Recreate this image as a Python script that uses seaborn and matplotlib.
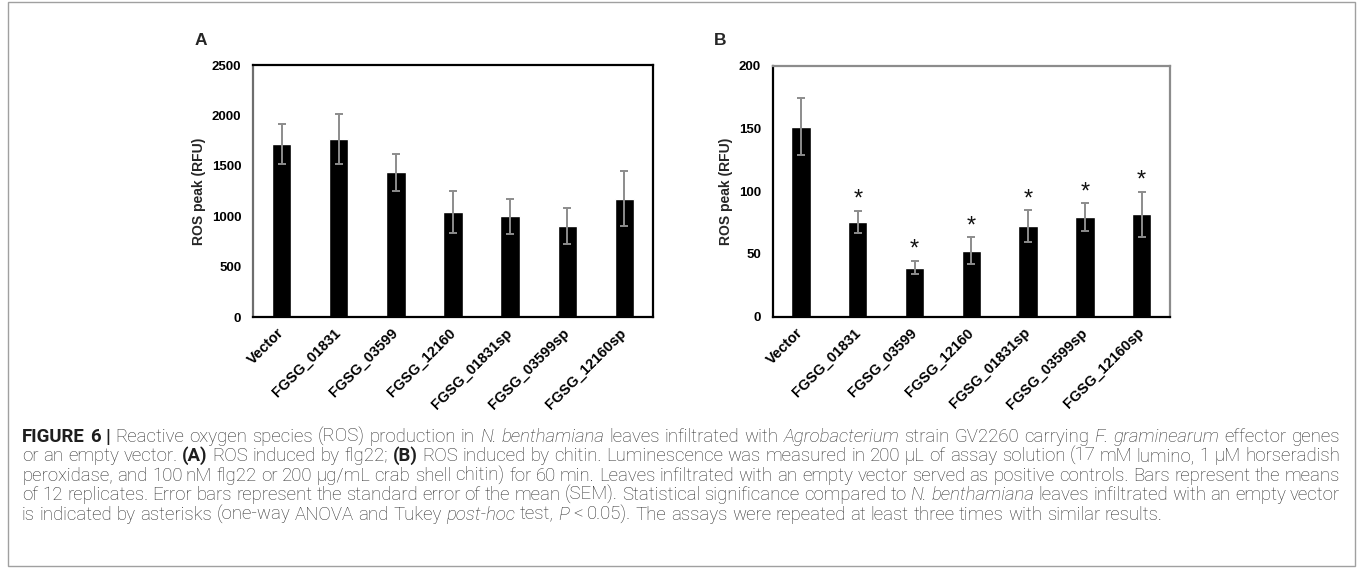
import matplotlib
matplotlib.use("Agg")
import matplotlib.pyplot as plt
import seaborn as sns
import numpy as np
import pandas as pd

# ---------------- data ----------------
categories = ["Vector", "FGSG_01831", "FGSG_03599", "FGSG_12160",
              "FGSG_01831sp", "FGSG_03599sp", "FGSG_12160sp"]
flg22_mean = [1715, 1765, 1435, 1040, 1000, 905, 1175]
flg22_sem = [195, 250, 185, 210, 172, 178, 277]
chitin_mean = [151.5, 75.8, 39.2, 52.7, 72.3, 79.4, 81.6]
chitin_sem = [23.0, 8.8, 5.3, 10.7, 12.6, 10.9, 17.8]
chitin_sig = ["", "*", "*", "*", "*", "*", "*"]
flg22_sig = ["", "", "", "", "", "", ""]
yticks_a = [0, 500, 1000, 1500, 2000, 2500]
yticks_b = [0, 50, 100, 150, 200]
ylabel = "ROS peak (RFU)"
panel_labels = ["A", "B"]

caption_lines = [
    "**FIGURE 6 |** Reactive oxygen species (ROS) production in *N. benthamiana* leaves infiltrated with *Agrobacterium* strain GV2260 carrying *F. graminearum* effector genes",
    "or an empty vector. **(A)** ROS induced by flg22; **(B)** ROS induced by chitin. Luminescence was measured in 200 \u03bcL of assay solution (17\u2009mM lumino, 1 \u03bcM horseradish",
    "peroxidase, and 100\u2009nM flg22 or 200\u2009\u03bcg/mL crab shell chitin) for 60\u2009min. Leaves infiltrated with an empty vector served as positive controls. Bars represent the means",
    "of 12 replicates. Error bars represent the standard error of the mean (SEM). Statistical significance compared to *N. benthamiana* leaves infiltrated with an empty vector",
    "is indicated by asterisks (one-way ANOVA and Tukey *post-hoc* test, *P* < 0.05). The assays were repeated at least three times with similar results.",
]

# ---------------- style ----------------
sns.set_style("white")
FAM = ["Liberation Sans", "DejaVu Sans"]
CAP_FAM = ["Roboto", "Liberation Sans", "DejaVu Sans"]
plt.rcParams["font.family"] = FAM

W, H = 1358, 569
fig = plt.figure(figsize=(W / 100, H / 100), dpi=100)


def fx(px):
    return px / W


def fy(py):
    return 1 - py / H


axA = fig.add_axes([fx(253), fy(317), (653 - 253) / W, (317 - 65) / H])
axB = fig.add_axes([fx(772.7), fy(316.7), (1170 - 772.7) / W, (316.7 - 65.7) / H])


def panel(ax, means, sems, sig, yticks, spine_cols, tick_col):
    df = pd.DataFrame({"cat": categories, "val": means})
    sns.barplot(data=df, x="cat", y="val", color="black", saturation=1,
                width=0.34, errorbar=None, ax=ax, zorder=2)
    xs = np.arange(len(categories))
    ax.errorbar(xs, means, yerr=sems, fmt="none", ecolor="#8c8c8c",
                elinewidth=1.4, capsize=2.6, capthick=1.4, zorder=3)
    for x, m, s, t in zip(xs, means, sems, sig):
        if t:
            ax.annotate(t, (x, m + s), xytext=(0, 0), textcoords="offset points",
                        ha="center", va="bottom", fontsize=17, color="#111111")
    ax.set_xlim(-0.5, len(categories) - 0.5)
    ax.set_ylim(yticks[0], yticks[-1])
    ax.set_yticks(yticks)
    ax.set_yticklabels([str(v) for v in yticks], fontweight="bold", fontsize=9.5)
    ax.set_xticks(xs)
    ax.set_xticklabels(categories, rotation=45, ha="right", va="center",
                       rotation_mode="anchor", fontweight="bold", fontsize=10.5)
    ax.set_xlabel("")
    ax.set_ylabel(ylabel, fontweight="bold", fontsize=10, labelpad=4)
    ax.tick_params(axis="y", direction="in", length=3, width=1, colors=tick_col,
                   labelcolor="black", pad=8.5)
    ax.tick_params(axis="x", length=0, pad=10, labelcolor="black")
    for side, col in spine_cols.items():
        ax.spines[side].set_visible(True)
        ax.spines[side].set_color(col)
        ax.spines[side].set_linewidth(1.6)
    ax.set_facecolor("white")


panel(axA, flg22_mean, flg22_sem, flg22_sig, yticks_a,
      {"left": "#6e6e6e", "bottom": "black", "top": "black", "right": "black"}, "#8c8c8c")
panel(axB, chitin_mean, chitin_sem, chitin_sig, yticks_b,
      {"left": "black", "bottom": "black", "top": "#8c8c8c", "right": "#8c8c8c"}, "black")

fig.text(fx(195), fy(45), panel_labels[0], fontsize=12.5, fontweight="bold", va="baseline")
fig.text(fx(714), fy(45), panel_labels[1], fontsize=12.5, fontweight="bold", va="baseline")

# frame
fig.add_artist(plt.Rectangle((fx(8), fy(566)), (1355 - 8) / W, (566 - 2) / H,
                             transform=fig.transFigure, fill=False,
                             edgecolor="#a0a0a0", linewidth=1.0))


# ---------------- caption (justified, mixed styles) ----------------
def parse(line):
    words, cur, buf = [], [], ""
    bold = ital = False
    i = 0
    while i < len(line):
        if line.startswith("**", i):
            if buf:
                cur.append((buf, bold, ital)); buf = ""
            bold = not bold; i += 2; continue
        c = line[i]
        if c == "*":
            if buf:
                cur.append((buf, bold, ital)); buf = ""
            ital = not ital; i += 1; continue
        if c == " ":
            if buf:
                cur.append((buf, bold, ital)); buf = ""
            if cur:
                words.append(cur); cur = []
            i += 1; continue
        buf += c; i += 1
    if buf:
        cur.append((buf, bold, ital))
    if cur:
        words.append(cur)
    return words


renderer = fig.canvas.get_renderer()


def mk(s, bold, ital, size, x=0, y=0):
    return fig.text(x, y, s, fontsize=size, family=CAP_FAM,
                    fontweight="bold" if bold else "light",
                    fontstyle="italic" if ital else "normal",
                    color="#1e1e1e" if bold else "#2e2e2e",
                    ha="left", va="baseline")


def thin(size):
    return 0.18 * size * 100 / 72


def tw(s, bold, ital, size):
    parts = s.split("\u2009")
    total = 0.0
    for p in parts:
        t = mk(p, bold, ital, size)
        total += t.get_window_extent(renderer).width
        t.remove()
    return total + thin(size) * (len(parts) - 1)


def draw_piece(s, bold, ital, size, x, y):
    parts = s.split("\u2009")
    for k, p in enumerate(parts):
        t = mk(p, bold, ital, size, fx(x), fy(y))
        x += t.get_window_extent(renderer).width
        if k < len(parts) - 1:
            x += thin(size)
    return x


def word_w(word, size):
    return sum(tw(s, b, it, size) for s, b, it in word)


def space_w(size):
    return tw("n n", False, False, size) - tw("nn", False, False, size)


parsed = [parse(l) for l in caption_lines]
x0, x1 = 22, 1340
last_end = 1172
trial = 10.0
sp_t = space_w(trial)
nat_last = sum(word_w(w, trial) for w in parsed[-1]) + sp_t * (len(parsed[-1]) - 1)
nat_max = max(sum(word_w(w, trial) for w in ws) + sp_t * (len(ws) - 1) for ws in parsed[:-1])
s1 = trial * (last_end - x0) / nat_last
s2 = trial * (x1 - x0) / nat_max
size = 0.5 * (s1 + s2)

base0, step = 441.7, 19.5
sp = space_w(size)
for li, words in enumerate(parsed):
    widths = [word_w(w, size) for w in words]
    if li < len(parsed) - 1:
        gap = (x1 - x0 - sum(widths)) / (len(words) - 1)
    else:
        gap = sp
    x = x0
    y = base0 + li * step
    for w, ww in zip(words, widths):
        xx = x
        for s, b, it in w:
            xx = draw_piece(s, b, it, size, xx, y)
        x += ww + gap

fig.savefig("out.png", dpi=100)
